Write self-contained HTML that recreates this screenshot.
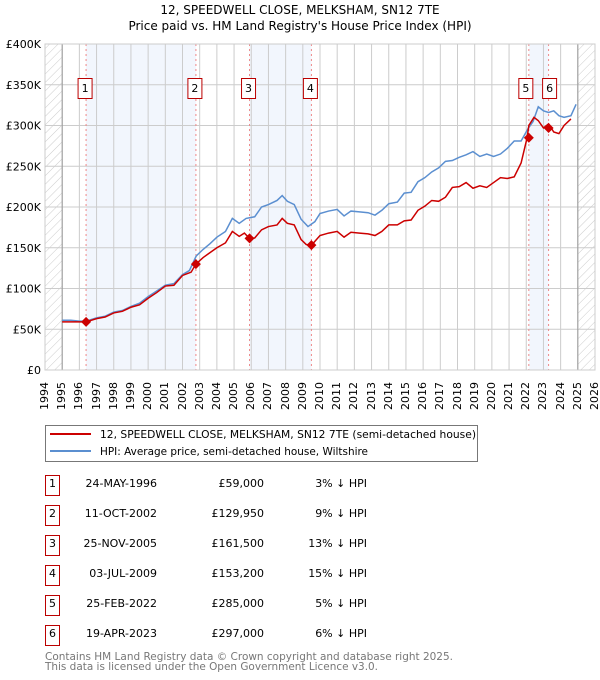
<!DOCTYPE html>
<html><head><meta charset="utf-8"><style>
body{margin:0;background:#fff;font-family:"DejaVu Sans","Liberation Sans",sans-serif;position:relative;width:600px;height:680px;overflow:hidden;}
svg text{font-family:"DejaVu Sans","Liberation Sans",sans-serif;}
.yl{position:absolute;font-size:11px;white-space:nowrap;transform-origin:0 0;transform:rotate(-90deg);line-height:11px;}
</style></head><body>
<svg id="c" width="600" height="680" xmlns="http://www.w3.org/2000/svg" style="position:absolute;left:0;top:0">
<defs><pattern id="hatch" width="6" height="6" patternUnits="userSpaceOnUse" patternTransform="rotate(45)"><line x1="0" y1="0" x2="0" y2="6" stroke="#ccc" stroke-width="1"/></pattern></defs>
<text x="300" y="14" text-anchor="middle" font-size="12">12, SPEEDWELL CLOSE, MELKSHAM, SN12 7TE</text>
<text x="300" y="30" text-anchor="middle" font-size="12">Price paid vs. HM Land Registry's House Price Index (HPI)</text>
<g id="plot"></g>
<g>
<rect x="45.5" y="425.5" width="432" height="36" fill="#fff" stroke="#777"/>
<line x1="50" y1="434" x2="91" y2="434" stroke="#cc0000" stroke-width="2"/>
<text x="100" y="438" font-size="10.5" textLength="376" lengthAdjust="spacingAndGlyphs">12, SPEEDWELL CLOSE, MELKSHAM, SN12 7TE (semi-detached house)</text>
<line x1="50" y1="451" x2="91" y2="451" stroke="#5b8fd0" stroke-width="2"/>
<text x="100" y="455" font-size="10.5" textLength="268" lengthAdjust="spacingAndGlyphs">HPI: Average price, semi-detached house, Wiltshire</text>
</g>
<g id="table"></g>
<text x="45" y="660" font-size="10.5" fill="#777" textLength="408" lengthAdjust="spacingAndGlyphs">Contains HM Land Registry data © Crown copyright and database right 2025.</text>
<text x="45" y="670" font-size="10.5" fill="#777" textLength="333" lengthAdjust="spacingAndGlyphs">This data is licensed under the Open Government Licence v3.0.</text>
</svg>
<div id="xlabels"></div>
<script>
const hpiYears=[1995,1995.5,1996,1996.4,1997,1997.5,1998,1998.5,1999,1999.5,2000,2000.5,2001,2001.5,2002,2002.4,2002.8,2003.2,2003.6,2004,2004.5,2004.9,2005.3,2005.7,2006.2,2006.6,2007,2007.5,2007.8,2008.1,2008.5,2008.9,2009.3,2009.7,2010,2010.5,2011,2011.4,2011.8,2012.3,2012.8,2013.2,2013.6,2014,2014.5,2014.9,2015.3,2015.7,2016.1,2016.5,2016.9,2017.3,2017.7,2018.1,2018.5,2018.9,2019.3,2019.7,2020.1,2020.5,2020.9,2021.3,2021.7,2022.1,2022.4,2022.7,2023.0,2023.3,2023.6,2023.9,2024.2,2024.6,2024.9];
const hpiValues=[61,61,60,60,64,66,71,73,78,82,90,97,104,106,117,122,140,148,155,163,170,186,180,186,188,200,203,208,214,207,203,185,176,182,192,195,197,189,195,194,193,190,196,204,206,217,218,231,236,243,248,256,257,261,264,268,262,265,262,265,272,281,281,296,305,323,318,316,318,312,310,312,326];
const ppYears=[1995,1995.5,1996,1996.39,1997,1997.5,1998,1998.5,1999,1999.5,2000,2000.5,2001,2001.5,2002,2002.5,2002.78,2003.2,2003.6,2004,2004.5,2004.9,2005.3,2005.6,2005.9,2006.2,2006.6,2007,2007.5,2007.8,2008.1,2008.5,2008.9,2009.2,2009.5,2010,2010.5,2011,2011.4,2011.8,2012.3,2012.8,2013.2,2013.6,2014,2014.5,2014.9,2015.3,2015.7,2016.1,2016.5,2016.9,2017.3,2017.7,2018.1,2018.5,2018.9,2019.3,2019.7,2020.1,2020.5,2020.9,2021.3,2021.7,2022.05,2022.15,2022.45,2022.7,2023.0,2023.3,2023.6,2023.9,2024.2,2024.6,2024.9];
const ppValues=[59,59,59,59,63,65,70,72,77,80,88,95,103,104,116,120,130,138,144,150,156,170,164,168,161.5,162,172,176,178,186,180,178,160,154,153,165,168,170,163,169,168,167,165,170,178,178,183,184,196,201,208,207,212,224,225,230,223,226,224,230,236,235,237,254,285,300,310,306,297,302,292,290,300,308];
const saleLabels=["1","2","3","4","5","6"];
const saleYears=[1996.39,2002.78,2005.9,2009.5,2022.15,2023.3];
const saleValues=[59,129.95,161.5,153.2,285,297];
const saleDates=["24-MAY-1996","11-OCT-2002","25-NOV-2005","03-JUL-2009","25-FEB-2022","19-APR-2023"];
const salePrices=["£59,000","£129,950","£161,500","£153,200","£285,000","£297,000"];
const saleDiffs=["3% ↓ HPI","9% ↓ HPI","13% ↓ HPI","15% ↓ HPI","5% ↓ HPI","6% ↓ HPI"];
const yTicks=[0,50,100,150,200,250,300,350,400];
const yTickLabels=["£0","£50K","£100K","£150K","£200K","£250K","£300K","£350K","£400K"];
const NS="http://www.w3.org/2000/svg";
const X0=45,X1=595,Y0=370,Y1=44;
const xs=y=>X0+(y-1994)/(2026-1994)*(X1-X0);
const ys=v=>Y0-v/400*(Y0-Y1);
const plot=document.getElementById('plot');
function mk(tag,attrs,parent){const e=document.createElementNS(NS,tag);for(const k in attrs)e.setAttribute(k,attrs[k]);(parent||plot).appendChild(e);return e;}
mk('rect',{x:X0,y:Y1,width:X1-X0,height:Y0-Y1,fill:'#fff'});
[[0,1],[2,3],[4,5]].forEach(p=>{const r=mk('rect',{x:xs(saleYears[p[0]]),y:Y1,width:xs(saleYears[p[1]])-xs(saleYears[p[0]]),height:Y0-Y1,fill:'#f2f6fd'});

});
let h=mk('rect',{x:X0,y:Y1,width:xs(1995)-X0,height:Y0-Y1,fill:'url(#hatch)'});


h=mk('rect',{x:xs(2025),y:Y1,width:X1-xs(2025),height:Y0-Y1,fill:'url(#hatch)'});


const xl=document.getElementById('xlabels');
for(let yr=1994;yr<=2026;yr++){mk('line',{x1:xs(yr),x2:xs(yr),y1:Y1,y2:Y0,stroke:'#ccc','stroke-width':1});
const d=document.createElement('div');d.className='yl';d.textContent=yr;
d.style.left=(xs(yr)-6)+'px';d.style.top='410px';


xl.appendChild(d);}
yTicks.forEach((v,i)=>{mk('line',{x1:X0,x2:X1,y1:ys(v),y2:ys(v),stroke:'#ccc','stroke-width':1});
const t=mk('text',{x:41,y:ys(v)+4,'font-size':11,'text-anchor':'end'});t.textContent=yTickLabels[i];

});
mk('line',{x1:xs(1995),x2:xs(1995),y1:Y1,y2:Y0,stroke:'#999','stroke-width':1});
mk('line',{x1:xs(2025),x2:xs(2025),y1:Y1,y2:Y0,stroke:'#999','stroke-width':1});
saleYears.forEach(y=>mk('line',{x1:xs(y),x2:xs(y),y1:Y1,y2:Y0,stroke:'#e88','stroke-width':1,'stroke-dasharray':'2,3'}));
let l=mk('polyline',{points:hpiYears.map((y,i)=>xs(y)+','+ys(hpiValues[i])).join(' '),fill:'none',stroke:'#5b8fd0','stroke-width':1.5});


l=mk('polyline',{points:ppYears.map((y,i)=>xs(y)+','+ys(ppValues[i])).join(' '),fill:'none',stroke:'#cc0000','stroke-width':1.5});


saleYears.forEach((y,i)=>{const cx=xs(y),cy=ys(saleValues[i]);
const d=mk('polygon',{points:`${cx},${cy-5} ${cx+5},${cy} ${cx},${cy+5} ${cx-5},${cy}`,fill:'#cc0000'});


const off=(i===4)?-3:(i===5?1:-1);
const g=mk('g',{});


mk('rect',{x:cx-7+off,y:78.5,width:14,height:20,fill:'#fff',stroke:'#b00','stroke-width':1},g);
const t=mk('text',{x:cx+off,y:92,'font-size':11,'text-anchor':'middle'},g);t.textContent=saleLabels[i];});
mk('rect',{x:X0,y:Y1,width:X1-X0,height:Y0-Y1,fill:'none',stroke:'#ccc'});
const tb=document.getElementById('table');
saleLabels.forEach((s,i)=>{const y=475+i*30;
const g=mk('g',{},tb);


mk('rect',{x:45.5,y:y+0.5,width:14,height:20,fill:'#fff',stroke:'#b00'},g);
let t=mk('text',{x:52.5,y:y+12,'font-size':11,'text-anchor':'middle'},g);t.textContent=s;
t=mk('text',{x:157,y:y+12,'font-size':11,'text-anchor':'end'},g);t.textContent=saleDates[i];
t=mk('text',{x:264,y:y+12,'font-size':11,'text-anchor':'end'},g);t.textContent=salePrices[i];
t=mk('text',{x:367,y:y+12,'font-size':11,'text-anchor':'end'},g);t.textContent=saleDiffs[i];});
</script>
</body></html>
